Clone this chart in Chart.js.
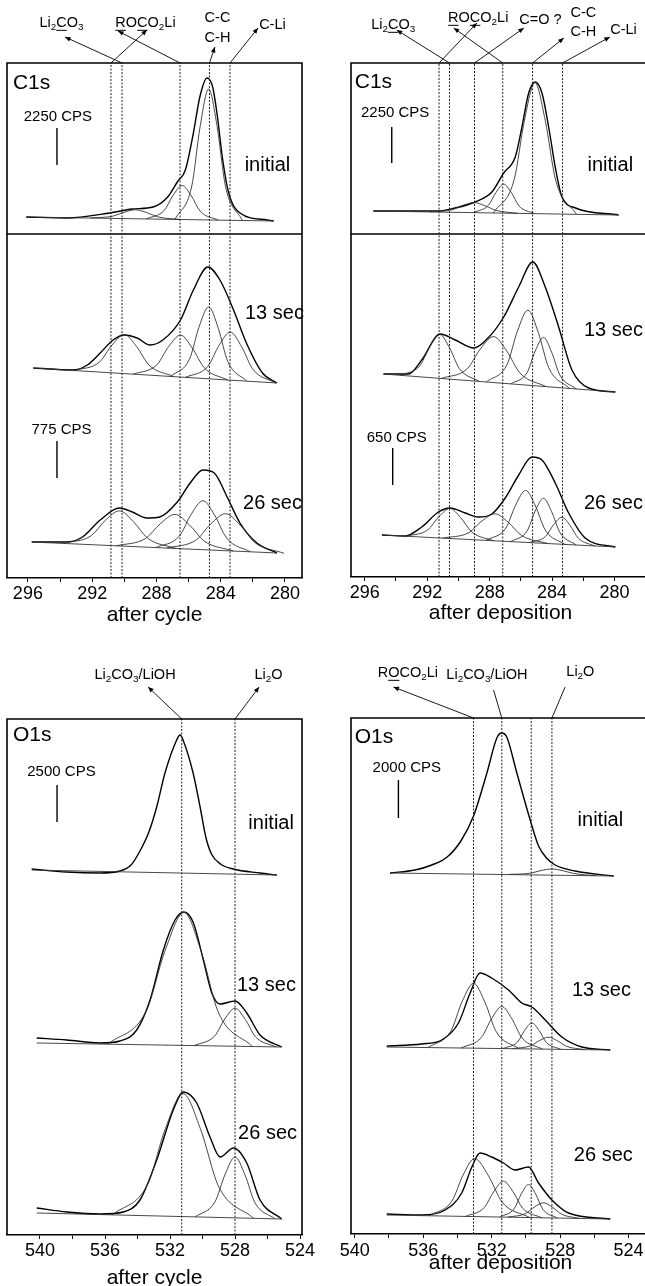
<!DOCTYPE html>
<html>
<head>
<meta charset="utf-8">
<script src="https://cdn.jsdelivr.net/npm/chart.js@4.4.1/dist/chart.umd.min.js"></script>
<style>
  html, body { margin: 0; padding: 0; background: #fff; overflow: hidden; width: 645px; height: 1286px; }
  canvas { position: absolute; }
</style>
</head>
<body>
<canvas id="pA" width="322" height="630" style="left:0;top:0"></canvas>
<canvas id="pB" width="340" height="630" style="left:322px;top:0"></canvas>
<canvas id="pC" width="322" height="650" style="left:0;top:656px"></canvas>
<canvas id="pD" width="340" height="650" style="left:322px;top:656px"></canvas>
<script>
// ---- axis ticks (binding energy, eV) ----
const c1sTicks = [280, 282, 284, 286, 288, 290, 292, 294, 296];
const c1sTickLabels = [280, 284, 288, 292, 296];
const o1sTicks = [524, 526, 528, 530, 532, 534, 536, 538, 540];
const o1sTickLabels = [524, 528, 532, 536, 540];

// ---- peak position markers ----
const c1sCycleMarks = [290.83, 290.14, 286.53, 284.7, 283.42];
const c1sDepMarks = [291.24, 290.57, 288.97, 287.16, 285.25, 283.33];
const o1sCycleMarks = [531.28, 528.0];
const o1sDepMarks = [533.06, 531.41, 529.69, 528.48];

// ---- C1s after cycle: [eV, intensity + offset] ----
const c1sCycleInitial = [[296.1,361],[293.6,360],[290.9,365],[289.5,369],[288.2,371],[287.3,381],[286.7,396],[286.2,408],[285.7,445],[285.3,481],[284.85,500],[284.5,491],[284.2,461],[283.9,421],[283.5,385],[282.8,365],[281.1,358],[280.7,357]];
const c1sCycleInitialFit = [
  [[292.1,360],[290.7,361.9],[290.0,365.8],[289.3,368.2],[288.6,365.4],[287.9,361.1],[286.5,358.5]],
  [[288.64,359.1],[287.52,367.5],[286.96,382.7],[286.4,392.5],[285.84,382.4],[285.28,366.9],[284.16,357.9]],
  [[286.85,358.5],[285.8,392],[285.28,451.5],[284.75,489],[284.22,451.2],[283.7,391.5],[282.65,357.6]]
];
const c1sCycleInitialBase = [[296.1,361],[280.7,357]];

const c1sCycle13 = [[295.66,210],[293.2,208],[292.3,213],[291.5,225],[290.7,238],[290.0,243],[289.2,240],[288.4,233],[287.6,238],[286.5,258],[285.7,288],[284.8,311],[284.05,298],[283.2,268],[282.4,235],[281.4,205],[280.5,195]];
const c1sCycle13Fit = [
  [[293.08,207.5],[291.54,216],[290.77,232.9],[290.0,243.4],[289.23,231.3],[288.46,212.9],[286.92,201.4]],
  [[289.44,203.8],[287.97,213.2],[287.24,231.4],[286.5,242.9],[285.77,230],[285.03,210.3],[283.56,198]],
  [[287.13,201.5],[285.94,218.9],[285.35,250.9],[284.75,271.2],[284.15,249.7],[283.56,216.5],[282.37,196.8]],
  [[286.2,200.6],[284.8,211.6],[284.1,232.7],[283.4,245.9],[282.7,231.3],[282.0,208.8],[280.6,195.1]]
];
const c1sCycle13Base = [[295.66,210],[280.5,195]];

const c1sCycle26 = [[295.76,36],[293.6,36],[292.6,41],[291.5,58],[290.3,70],[289.5,66],[288.6,60],[287.8,61],[286.7,76],[285.9,95],[285.1,108],[284.4,105],[283.6,81],[282.8,55],[281.75,35],[280.5,25]];
const c1sCycle26Fit = [
  [[293.8,34.6],[292.05,42.4],[291.18,57.7],[290.3,67.1],[289.43,56.3],[288.55,39.8],[286.8,29.6]],
  [[290.49,32.2],[288.67,39.6],[287.76,54.3],[286.85,63.6],[285.94,53],[285.03,37],[283.21,27]],
  [[288.04,30.4],[286.57,41.9],[285.84,63.6],[285.1,77.3],[284.37,62.6],[283.63,39.9],[282.16,26.2]],
  [[287.34,29.9],[285.52,38.1],[284.61,54.2],[283.7,64.3],[282.79,52.9],[281.88,35.5],[280.06,24.7]]
];
const c1sCycle26Base = [[295.76,36],[280.5,25]];

// ---- C1s after deposition ----
const c1sDepInitial = [[295.45,366],[291.28,366],[290.21,369],[288.93,375],[287.86,385],[287.1,404],[286.36,420],[285.93,450],[285.5,484],[285.08,495],[284.65,484],[284.22,450],[283.8,410],[283.37,380],[282.5,369],[279.74,362]];
const c1sDepInitialFit = [
  [[291.8,365.1],[290.4,367.3],[289.7,371.7],[289.0,374.4],[288.3,371.3],[287.6,366.7],[286.2,363.7]],
  [[289.06,364.4],[288.08,371.7],[287.59,384.6],[287.1,392.9],[286.61,384.4],[286.12,371.1],[285.14,363.4]],
  [[287.76,364.1],[286.43,397.4],[285.77,456.8],[285.1,494.4],[284.44,456.5],[283.77,396.7],[282.44,362.7]]
];
const c1sDepInitialBase = [[295.45,366],[279.74,362]];

const c1sDep13 = [[294.8,203],[293.2,203],[292.35,217],[291.17,243],[290.2,237],[289.0,229],[288.04,240],[287.1,260],[286.14,290],[285.24,315],[284.44,290],[283.58,250],[282.73,207],[281.66,189],[279.95,185]];
const c1sDep13Fit = [
  [[293.72,201.7],[292.46,211.5],[291.83,230.7],[291.2,242.6],[290.57,229.2],[289.94,208.4],[288.68,195.6]],
  [[291.11,198.5],[289.43,208.3],[288.59,228.1],[287.75,240.4],[286.91,226.1],[286.07,204.2],[284.39,190.4]],
  [[288.21,195],[286.88,212.7],[286.22,245.9],[285.55,266.8],[284.88,244.3],[284.22,209.5],[282.89,188.6]],
  [[286.65,193.1],[285.6,204.4],[285.08,226.1],[284.55,239.6],[284.03,224.8],[283.5,201.9],[282.45,188]]
];
const c1sDep13Base = [[294.8,203],[279.95,185]];

const c1sDep26 = [[294.9,42],[293.4,41],[292.35,50],[291.28,65],[290.53,69],[289.57,64],[288.71,60],[287.86,63],[287.0,79],[286.14,102],[285.29,120],[284.65,117],[283.8,94],[282.94,64],[281.88,39],[279.95,30]];
const c1sDep26Fit = [
  [[293.35,40.7],[291.95,47.3],[291.25,60.3],[290.55,68.5],[289.85,59.2],[289.15,45.1],[287.75,36.2]],
  [[291.01,38.9],[289.33,44.4],[288.49,56.1],[287.65,63.2],[286.81,54.7],[285.97,41.7],[284.29,33.5]],
  [[288.22,36.6],[286.96,49],[286.33,72.1],[285.7,86.6],[285.07,71.1],[284.44,47],[283.18,32.6]],
  [[286.65,35.4],[285.6,46.1],[285.08,66.1],[284.55,78.7],[284.03,65.3],[283.5,44.5],[282.45,32]],
  [[285.47,34.4],[284.42,40.5],[283.9,52.4],[283.37,59.7],[282.85,51.5],[282.32,38.8],[281.27,31]]
];
const c1sDep26Base = [[294.9,42],[279.95,30]];

// ---- O1s after cycle ----
const o1sCycleInitial = [[540.51,366],[538.36,363],[536.31,362],[535.08,364],[534.4,370],[533.85,384],[533.3,403],[532.82,428],[532.31,462],[531.59,495],[531.38,500],[531.2,495],[530.58,462],[530.15,428],[529.8,398],[529.45,381],[528.9,371],[528.12,366],[526.46,362],[525.43,360]];
const o1sCycleInitialFit = [];
const o1sCycleInitialBase = [[540.51,365],[525.43,360]];

const o1sCycle13 = [[540.2,197],[538.36,195],[536.31,192],[535.08,194],[534.05,205],[533.23,235],[532.41,285],[531.69,315],[531.14,323],[530.56,312],[529.95,275],[529.43,242],[528.92,231],[528.0,234],[527.28,222],[526.46,200],[525.13,188]];
const o1sCycle13Fit = [
  [[535.8,191],[533.45,224.4],[532.3,284.7],[531.14,322.6],[530.09,284],[529.04,223.2],[526.94,188.5]],
  [[530.52,189.4],[529.26,198.9],[528.63,216],[528.0,226.8],[527.37,215.6],[526.74,198.2],[525.48,188.1]]
];
const o1sCycle13Base = [[540.2,192],[525.13,188]];

const o1sCycle26 = [[540.2,27],[538.36,23],[536.31,21],[534.87,23],[533.85,35],[532.82,75],[531.8,125],[531.18,143],[530.36,132],[529.54,98],[528.92,78],[528.1,87],[527.28,72],[526.46,35],[525.13,16]];
const o1sCycle26Fit = [
  [[535.54,20.2],[533.37,50.9],[532.29,106.2],[531.2,141.4],[530.11,105.3],[529.03,49.2],[526.86,16.7]],
  [[530.45,18.1],[529.23,33.3],[528.61,60.7],[528.0,78.1],[527.39,60.2],[526.78,32.4],[525.55,16.2]]
];
const o1sCycle26Base = [[540.2,22],[525.13,16]];

// ---- O1s after deposition ----
const o1sDepInitial = [[537.94,361],[536.48,364],[535.5,369],[534.6,377],[533.8,393],[533.06,418],[532.28,461],[531.7,496],[531.41,501],[531.12,497],[530.53,461],[529.75,414],[529.26,388],[528.8,376],[528.29,369],[527.12,363],[524.87,358]];
const o1sDepInitialFit = [
  [[531.0,359.6],[529.74,360.8],[529.11,363.5],[528.48,365],[527.85,363.3],[527.22,360.6],[525.96,358.3]]
];
const o1sDepInitialBase = [[537.94,361],[524.87,358]];

const o1sDep13 = [[538.13,188],[536.09,190],[534.92,194],[533.94,211],[533.26,241],[532.68,261],[532.0,256],[531.02,244],[530.24,231],[529.65,227],[528.87,214],[527.9,197],[526.73,187],[525.07,184]];
const o1sDep13Fit = [
  [[535.72,186.4],[534.39,202.8],[533.73,232.3],[533.06,250.8],[532.4,232],[531.73,202.2],[530.4,185.2]],
  [[533.79,186],[532.6,196.6],[532.0,215.5],[531.41,227.5],[530.82,215.2],[530.22,195.9],[529.03,184.9]],
  [[531.33,185.5],[530.49,192],[530.07,203.7],[529.65,211.1],[529.23,203.5],[528.81,191.6],[527.97,184.7]],
  [[530.78,185.3],[529.73,188.2],[529.2,193.5],[528.68,196.8],[528.16,193.2],[527.63,187.7],[526.58,184.4]]
];
const o1sDep13Base = [[538.13,187],[525.07,184]];

const o1sDep26 = [[538.13,20],[536.09,19],[534.72,24],[533.75,41],[533.16,67],[532.68,81],[532.0,77],[531.31,71],[530.63,64],[529.85,67],[529.26,51],[528.48,34],[527.51,21],[525.07,15]];
const o1sDep26Fit = [
  [[535.66,18.3],[534.33,32.8],[533.67,59],[533.0,75.5],[532.2,58.6],[531.39,31.9],[529.78,16.5]],
  [[533.55,17.5],[532.43,26.5],[531.87,42.6],[531.31,52.8],[530.75,42.2],[530.19,25.8],[529.07,16.2]],
  [[531.53,17],[530.69,25.2],[530.27,40.1],[529.85,49.5],[529.43,39.9],[529.01,24.7],[528.17,16]],
  [[531.07,16.9],[530.02,20.4],[529.5,27.1],[528.97,31.2],[528.45,26.8],[527.92,19.8],[526.87,15.6]]
];
const o1sDep26Base = [[538.13,19],[525.07,15]];

const FONT = '"Liberation Sans", Arial, Helvetica, sans-serif';
Chart.defaults.font.family = FONT;

// "Li{2}[C]O{3}" -> {2} subscript, [C] underlined
function parseRich(s) {
  const out = [];
  const re = /\{([^}]*)\}|\[([^\]]*)\]|([^{\[]+)/g;
  let m;
  while ((m = re.exec(s))) {
    if (m[1] != null) out.push({ t: m[1], sub: true });
    else if (m[2] != null) out.push({ t: m[2], u: true });
    else out.push({ t: m[3] });
  }
  return out;
}

function drawRich(ctx, s, x, y, size, align) {
  const parts = parseRich(s);
  let w = 0;
  parts.forEach(p => {
    ctx.font = (p.sub ? size * 0.68 : size) + 'px ' + FONT;
    w += ctx.measureText(p.t).width;
  });
  let cx = align === 'center' ? x - w / 2 : x;
  ctx.textAlign = 'left';
  parts.forEach(p => {
    const fs = p.sub ? size * 0.68 : size;
    ctx.font = fs + 'px ' + FONT;
    const tw = ctx.measureText(p.t).width;
    ctx.fillText(p.t, cx, y + (p.sub ? size * 0.32 : 0));
    if (p.u) ctx.fillRect(cx, y + size * 0.47, tw, 1);
    cx += tw;
  });
}

function arrow(ctx, x1, y1, x2, y2, head) {
  ctx.beginPath();
  ctx.moveTo(x1, y1);
  ctx.lineTo(x2, y2);
  ctx.stroke();
  if (!head) return;
  const ang = Math.atan2(y2 - y1, x2 - x1), L = 6, W = 0.4;
  ctx.beginPath();
  ctx.moveTo(x2, y2);
  ctx.lineTo(x2 - L * Math.cos(ang - W), y2 - L * Math.sin(ang - W));
  ctx.lineTo(x2 - L * Math.cos(ang + W), y2 - L * Math.sin(ang + W));
  ctx.closePath();
  ctx.fill();
}

function decor(p) {
  return {
    id: 'decor' + p.id,
    afterDraw(chart) {
      const { ctx, chartArea: a } = chart;
      const xs = chart.scales.x, ys = chart.scales.y;
      const X = E => xs.getPixelForValue(E), Y = v => ys.getPixelForValue(v);
      ctx.save();
      ctx.strokeStyle = '#000';
      ctx.fillStyle = '#000';
      ctx.lineWidth = 1.6;
      ctx.beginPath();
      ctx.moveTo(a.left, a.bottom);
      ctx.lineTo(a.left, a.top);
      ctx.lineTo(a.right, a.top);
      ctx.lineTo(a.right, a.bottom);
      ctx.stroke();
      ctx.lineWidth = 1.4;
      p.bars.forEach(b => {
        ctx.beginPath();
        ctx.moveTo(X(b[0]), Y(b[1]));
        ctx.lineTo(X(b[0]), Y(b[2]));
        ctx.stroke();
      });
      ctx.lineWidth = 0.9;
      p.arrows.forEach(r => arrow(ctx, X(r[0]), Y(r[1]), X(r[2]), Y(r[3]), r[4]));
      ctx.textBaseline = 'middle';
      p.texts.forEach(t => drawRich(ctx, t[0], X(t[1]), Y(t[2]), t[3], t[4]));
      ctx.restore();
    }
  };
}

function curve(data, w, c, smooth) {
  return { data, borderColor: c, borderWidth: w, pointRadius: 0, fill: false,
           cubicInterpolationMode: smooth ? 'monotone' : 'default', tension: 0 };
}

function makeChart(p) {
  const datasets = [];
  p.marks.forEach(E => datasets.push({ data: [[E, 0], [E, p.yMax]], borderColor: '#222',
    borderWidth: 1, borderDash: [2, 1.5], pointRadius: 0 }));
  if (p.divider) datasets.push({ data: [[p.xMax, p.divider], [p.xMin, p.divider]],
    borderColor: '#000', borderWidth: 1.5, pointRadius: 0 });
  p.spectra.forEach(s => {
    datasets.push(curve(s[2], 0.9, '#333', false));
    s[1].forEach(f => datasets.push(curve(f, 0.9, '#333', true)));
    datasets.push(curve(s[0], 1.4, '#000', true));
  });
  new Chart(document.getElementById(p.id), {
    type: 'line',
    data: { datasets },
    options: {
      responsive: false,
      animation: false,
      events: [],
      layout: { padding: p.pad },
      plugins: { legend: { display: false }, tooltip: { enabled: false } },
      scales: {
        x: {
          type: 'linear', reverse: true, min: p.xMin, max: p.xMax,
          afterBuildTicks: s => { s.ticks = p.ticks.map(v => ({ value: v })); },
          afterFit: s => { s.height = p.xHeight; },
          ticks: { autoSkip: false, maxRotation: 0, padding: p.tickPad, color: '#000',
                   font: { size: 18, family: FONT },
                   callback: v => p.labels.includes(v) ? String(v) : '' },
          grid: { display: true, drawOnChartArea: false, drawTicks: true, tickLength: 4,
                  color: '#000', lineWidth: 1 },
          border: { display: true, color: '#000', width: 1.6 },
          title: { display: true, text: p.title, color: '#000',
                   font: { size: 21, family: FONT, lineHeight: 1.2 },
                   padding: { top: 0, bottom: p.titlePad } }
        },
        y: { display: false, min: 0, max: p.yMax }
      }
    },
    plugins: [decor(p)]
  });
}

makeChart({
  id: 'pA', xMin: 278.94, xMax: 297.3, yMax: 515, xHeight: 52, tickPad: 1, titlePad: 2.4,
  pad: { left: 7, top: 63, right: 20, bottom: 0 },
  ticks: c1sTicks, labels: c1sTickLabels, title: 'after cycle',
  marks: c1sCycleMarks, divider: 344,
  spectra: [[c1sCycleInitial, c1sCycleInitialFit, c1sCycleInitialBase],
            [c1sCycle13, c1sCycle13Fit, c1sCycle13Base],
            [c1sCycle26, c1sCycle26Fit, c1sCycle26Base]],
  bars: [[294.19, 450, 413], [294.19, 137, 100]],
  arrows: [[290.14, 515, 293.69, 541, 1], [290.83, 515, 288.59, 548, 1], [286.53, 515, 290.39, 547, 1],
           [284.7, 515, 284.36, 531, 1], [283.42, 515, 281.68, 550, 1]],
  texts: [['C1s', 296.93, 495, 21, 'left'], ['2250 CPS', 294.13, 461, 15, 'center'],
          ['initial', 281.09, 413, 20, 'center'], ['13 sec', 282.49, 265, 20, 'left'],
          ['775 CPS', 293.91, 148, 15, 'center'], ['26 sec', 282.61, 75, 20, 'left'],
          ['Li{2}[C]O{3}', 293.91, 555, 14.5, 'center'], ['[R]O[C]O{2}Li', 288.68, 555, 14.5, 'center'],
          ['C-C', 284.2, 560, 14.5, 'center'], ['C-H', 284.2, 540, 14.5, 'center'],
          ['C-Li', 280.78, 553, 14.5, 'center']]
});

makeChart({
  id: 'pB', xMin: 277.73, xMax: 296.88, yMax: 514, xHeight: 53, tickPad: 1.5, titlePad: 4.4,
  pad: { left: 29, top: 63, right: 12, bottom: 0 },
  ticks: c1sTicks, labels: c1sTickLabels, title: 'after deposition',
  marks: c1sDepMarks, divider: 343,
  spectra: [[c1sDepInitial, c1sDepInitialFit, c1sDepInitialBase],
            [c1sDep13, c1sDep13Fit, c1sDep13Base],
            [c1sDep26, c1sDep26Fit, c1sDep26Base]],
  bars: [[294.27, 450, 414], [294.21, 129, 92]],
  arrows: [[290.57, 514, 293.95, 547, 1], [291.24, 514, 288.82, 554, 1], [287.16, 514, 290.3, 549, 1],
           [288.97, 514, 285.81, 549, 1], [285.25, 514, 283.25, 539, 1], [283.33, 514, 280.3, 540, 1]],
  texts: [['C1s', 296.64, 495, 21, 'left'], ['2250 CPS', 294.05, 464, 15, 'center'],
          ['initial', 280.27, 412, 20, 'center'], ['13 sec', 281.96, 247, 20, 'left'],
          ['650 CPS', 293.95, 139, 15, 'center'], ['26 sec', 281.96, 74, 20, 'left'],
          ['Li{2}[C]O{3}', 294.18, 552, 14.5, 'center'], ['[R]O[C]O{2}Li', 288.73, 559, 14.5, 'center'],
          ['C=O ?', 284.75, 557, 14.5, 'center'], ['C-C', 282.0, 564, 14.5, 'center'],
          ['C-H', 282.0, 545, 14.5, 'center'], ['C-Li', 279.43, 547, 14.5, 'center']]
});

makeChart({
  id: 'pC', xMin: 523.88, xMax: 542.03, yMax: 516, xHeight: 71, tickPad: 1, titlePad: 15.4,
  pad: { left: 7, top: 63, right: 20, bottom: 0 },
  ticks: o1sTicks, labels: o1sTickLabels, title: 'after cycle',
  marks: o1sCycleMarks, divider: 0,
  spectra: [[o1sCycleInitial, o1sCycleInitialFit, o1sCycleInitialBase],
            [o1sCycle13, o1sCycle13Fit, o1sCycle13Base],
            [o1sCycle26, o1sCycle26Fit, o1sCycle26Base]],
  bars: [[538.95, 450, 413]],
  arrows: [[531.28, 516, 533.35, 548, 1], [528.0, 516, 526.52, 548, 1]],
  texts: [['O1s', 541.66, 500, 21, 'left'], ['2500 CPS', 538.68, 463, 15, 'center'],
          ['initial', 525.78, 412, 20, 'center'], ['13 sec', 527.88, 250, 20, 'left'],
          ['26 sec', 527.81, 102, 20, 'left'],
          ['Li{2}CO{3}/LiOH', 534.15, 560, 14.5, 'center'], ['Li{2}O', 525.94, 560, 14.5, 'center']]
});

makeChart({
  id: 'pD', xMin: 522.75, xMax: 540.22, yMax: 516, xHeight: 72, tickPad: 2, titlePad: 30.4,
  pad: { left: 29, top: 62, right: 12, bottom: 0 },
  ticks: o1sTicks, labels: o1sTickLabels, title: 'after deposition',
  marks: o1sDepMarks, divider: 0,
  spectra: [[o1sDepInitial, o1sDepInitialFit, o1sDepInitialBase],
            [o1sDep13, o1sDep13Fit, o1sDep13Base],
            [o1sDep26, o1sDep26Fit, o1sDep26Base]],
  bars: [[537.45, 454, 416]],
  arrows: [[533.06, 516, 537.74, 547, 1], [531.41, 516, 531.89, 544, 0], [528.48, 516, 527.71, 547, 0]],
  texts: [['O1s', 540.0, 497, 21, 'left'], ['2000 CPS', 536.96, 466, 15, 'center'],
          ['initial', 525.65, 414, 20, 'center'], ['13 sec', 527.31, 244, 20, 'left'],
          ['26 sec', 527.2, 79, 20, 'left'],
          ['R[O]CO{2}Li', 536.9, 561, 14.5, 'center'], ['Li{2}CO{3}/LiOH', 532.28, 559, 14.5, 'center'],
          ['Li{2}O', 526.82, 562, 14.5, 'center']]
});
</script>
</body>
</html>
